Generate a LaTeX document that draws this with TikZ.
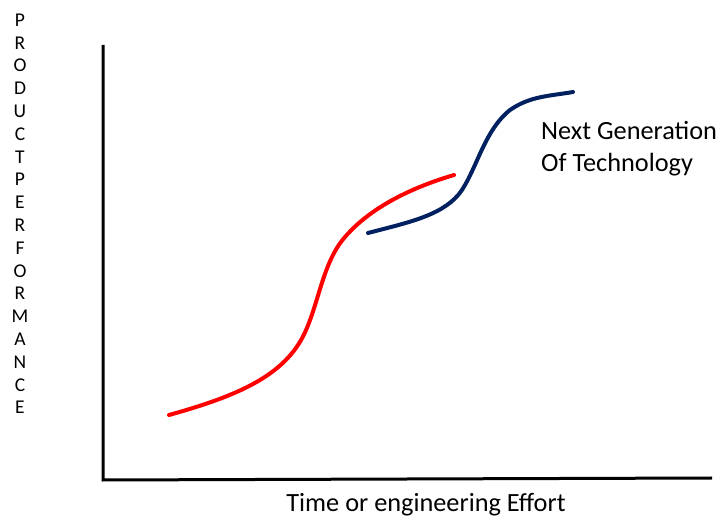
\documentclass[tikz,border=0pt]{standalone}
\usepackage{fontspec}
\setmainfont{Carlito}
\begin{document}
\begin{tikzpicture}[x=1pt,y=-1pt,
  axis/.style={line width=3pt,black},
  curve/.style={line width=4pt,line cap=round},
  lbl/.style={inner sep=0pt,font=\fontsize{26.3}{32}\selectfont},
  vlet/.style={inner sep=0pt,font=\fontsize{19.5}{19.5}\selectfont}]
\useasboundingbox (0,0) rectangle (721,518);
\coordinate (top) at (103,45);
\coordinate (origin) at (103,480);
\coordinate (right) at (712,478);
\draw[axis] (top) -- (origin) -- (right);
\coordinate (r0) at (169,415);
\coordinate (r3) at (454,175);
\coordinate (b0) at (368,233);
\coordinate (b3) at (573,92);
\draw[curve,red] (r0) .. controls (230,398) and (275,380) .. (298,345)
  .. controls (318,315) and (320,265) .. (345,237)
  .. controls (370,208) and (410,188) .. (r3);
\draw[curve,color={rgb,255:red,0;green,32;blue,96}] (b0) .. controls (410,222) and (445,215) .. (462,190)
  .. controls (478,165) and (485,130) .. (510,110)
  .. controls (530,96) and (550,96) .. (b3);
\node[lbl,anchor=base west] (ng1) at (541,140) {Next Generation};
\node[lbl,anchor=base west] (ng2) at (541,172) {Of Technology};
\node[lbl,anchor=base] (xl) at (426,512) {Time or engineering Effort};
\foreach \l [count=\i] in {P,R,O,D,U,C,T,P,E,R,F,O,R,M,A,N,C,E}
  \node[vlet] (v\i) at (20,{20+(\i-1)*22.8}) {\l};
\end{tikzpicture}
\end{document}
